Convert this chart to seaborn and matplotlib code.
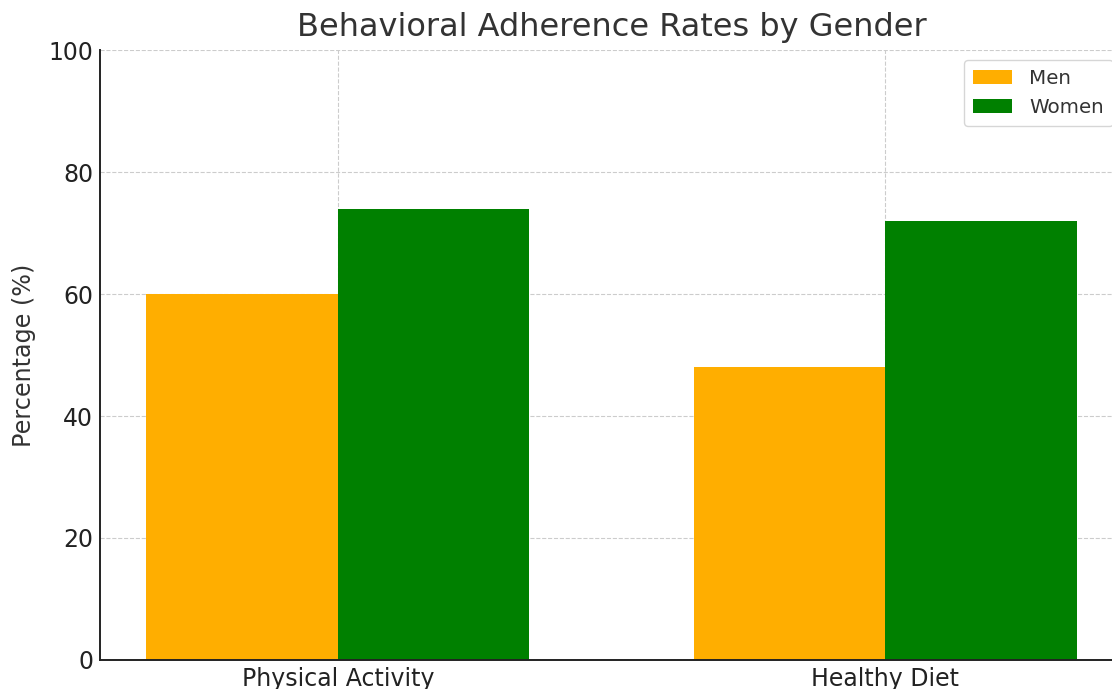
import matplotlib
matplotlib.use("Agg")
import matplotlib.pyplot as plt
import seaborn as sns
import pandas as pd

categories = ["Physical Activity", "Healthy Diet"]
men_values = [60, 48]
women_values = [74, 72]
groups = ["Men", "Women"]
colors = ["#FFAE00", "#008000"]

df = pd.DataFrame({
    "Behavior": categories * 2,
    "Percentage": men_values + women_values,
    "Group": [groups[0]] * len(categories) + [groups[1]] * len(categories),
})

sns.set_style("white")
plt.rcParams["font.family"] = ["DejaVu Sans"]

fig = plt.figure(figsize=(11.12, 6.89), dpi=100)
ax = fig.add_axes([0.0899, 0.0421, 0.9200, 0.8853])

sns.barplot(data=df, x="Behavior", y="Percentage", hue="Group",
            palette=colors, width=0.7, gap=0, saturation=1,
            errorbar=None, ax=ax, zorder=2, linewidth=0)

ax.set_xlim(-0.435, 1.435)
ax.set_ylim(0, 100)
ax.set_yticks([0, 20, 40, 60, 80, 100])
ax.grid(True, linestyle="--", linewidth=0.8, color="#cccccc", zorder=0)
ax.set_axisbelow(True)

ax.set_title("Behavioral Adherence Rates by Gender", fontsize=23, color="#333333", pad=10)
ax.set_xlabel("")
ax.set_ylabel("Percentage (%)", fontsize=17.2, color="#333333", labelpad=9)
ax.tick_params(axis="both", direction="in", length=5, width=1.2,
               labelsize=17, colors="#222222", pad=5)

for side in ["top", "right"]:
    ax.spines[side].set_visible(False)
for side in ["left", "bottom"]:
    ax.spines[side].set_color("#222222")
    ax.spines[side].set_linewidth(1.4)

leg = ax.legend(loc="upper right", fontsize=14.3, frameon=True,
                borderpad=0.45, handlelength=1.95, handleheight=0.7,
                handletextpad=0.9, labelspacing=0.5)
leg.get_frame().set_edgecolor("#cccccc")
for t in leg.get_texts():
    t.set_color("#333333")

fig.savefig("out.png", dpi=100)
